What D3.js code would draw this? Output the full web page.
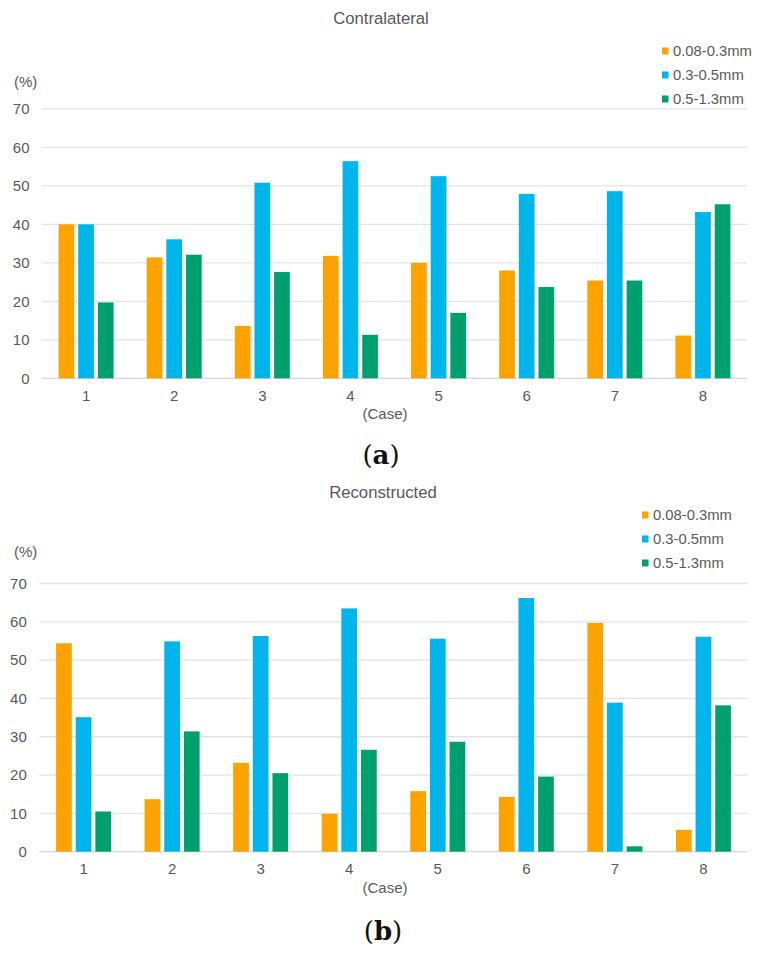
<!DOCTYPE html>
<html>
<head>
<meta charset="utf-8">
<script src="https://cdn.jsdelivr.net/npm/d3@7"></script>
<style>
body { margin: 0; background: #fff; }
svg { display: block; }
text { font-family: "Liberation Sans", Arial, sans-serif; fill: #595959; }
</style>
</head>
<body>
<svg id="fig" width="760" height="955"></svg>
<script>
var cases = ["1", "2", "3", "4", "5", "6", "7", "8"]
var sizes = ["0.08-0.3mm", "0.3-0.5mm", "0.5-1.3mm"]
var colors = ["#FCA300", "#00B5EB", "#00A06E"]
var yTicks = [0, 10, 20, 30, 40, 50, 60, 70]

// contralateral side, % per size range
var contraSmall = [40.0, 31.4, 13.6, 31.8, 30.0, 28.0, 25.4, 11.1]
var contraMid = [40.0, 36.1, 50.8, 56.4, 52.5, 47.9, 48.6, 43.2]
var contraLarge = [19.7, 32.1, 27.6, 11.3, 17.0, 23.7, 25.4, 45.2]

// reconstructed side
var reconSmall = [54.4, 13.7, 23.2, 9.9, 15.8, 14.3, 59.7, 5.7]
var reconMid = [35.1, 54.9, 56.3, 63.5, 55.6, 66.2, 38.9, 56.1]
var reconLarge = [10.5, 31.4, 20.5, 26.6, 28.7, 19.6, 1.4, 38.2]

var svg = d3.select("#fig")

function drawChart(cfg) {
	var g = svg.append("g")
	var series = [cfg.small, cfg.mid, cfg.large]

	var x = d3.scaleBand()
		.domain(cases)
		.range([cfg.left, cfg.right])
	var y = d3.scaleLinear()
		.domain([0, 70])
		.range([cfg.bottom, cfg.top])

	// gridlines
	g.selectAll("line.grid")
		.data(yTicks)
		.enter()
		.append("line")
		.attr("x1", cfg.left)
		.attr("x2", cfg.right)
		.attr("y1", function(d) { return y(d) })
		.attr("y2", function(d) { return y(d) })
		.attr("stroke", function(d) { return d == 0 ? "#d6d6d6" : "#e3e3e3" })
		.attr("stroke-width", 1.3)

	var yAxis = g.append("g")
		.attr("transform", "translate(" + (cfg.left - 12.5) + ",0)")
		.call(d3.axisLeft(y).tickValues(yTicks).tickSize(0).tickPadding(0))
	yAxis.select(".domain").remove()
	yAxis.selectAll("text")
		.attr("font-size", 15)
		.style("font-family", "Liberation Sans, Arial, sans-serif")
		.attr("fill", "#595959")

	var xAxis = g.append("g")
		.attr("transform", "translate(0," + (cfg.bottom + 11) + ")")
		.call(d3.axisBottom(x).tickSize(0).tickPadding(0))
	xAxis.select(".domain").remove()
	xAxis.selectAll("text")
		.attr("dy", "0.75em")
		.attr("font-size", 15)
		.style("font-family", "Liberation Sans, Arial, sans-serif")
		.attr("fill", "#595959")

	// bars
	var slots = g.selectAll("g.slot")
		.data(cases)
		.enter()
		.append("g")
		.attr("class", "slot")

	slots.each(function(c, ci) {
		var mid = x(c) + x.bandwidth() / 2
		var x1 = d3.scaleBand()
			.domain(d3.range(sizes.length))
			.range([mid - 27.5, mid + 27.5])
			.paddingInner(0.2)
		d3.select(this)
			.selectAll("rect")
			.data(series.map(function(s) { return s[ci] }))
			.enter()
			.append("rect")
			.attr("x", function(d, i) { return x1(i) })
			.attr("width", x1.bandwidth())
			.attr("y", function(d) { return y(d) })
			.attr("height", function(d) { return y(0) - y(d) })
			.attr("fill", function(d, i) { return colors[i] })
	})

	g.append("text")
		.attr("x", cfg.titleX)
		.attr("y", cfg.titleY)
		.attr("text-anchor", "middle")
		.attr("font-size", 16.7)
		.text(cfg.title)

	g.append("text")
		.attr("x", 14)
		.attr("y", cfg.unitY)
		.attr("font-size", 15)
		.text("(%)")

	g.append("text")
		.attr("x", cfg.caseX)
		.attr("y", cfg.bottom + 41)
		.attr("text-anchor", "middle")
		.attr("font-size", 15)
		.text("(Case)")

	var leg = g.selectAll("g.leg")
		.data(sizes)
		.enter()
		.append("g")
		.attr("transform", function(d, i) {
			return "translate(" + cfg.legX + "," + (cfg.legY + i * 24) + ")"
		})
	leg.append("rect")
		.attr("x", 0)
		.attr("y", -3.5)
		.attr("width", 6.5)
		.attr("height", 7)
		.attr("fill", function(d, i) { return colors[i] })
	leg.append("text")
		.attr("x", 11)
		.attr("dy", "0.36em")
		.attr("font-size", 14.8)
		.text(function(d) { return d })

	var lab = g.append("text")
		.attr("x", cfg.titleX)
		.attr("y", cfg.labelY)
		.attr("text-anchor", "middle")
		.attr("font-size", 26)
		.style("font-family", "DejaVu Serif, Liberation Serif, serif")
		.style("fill", "#111")
	lab.append("tspan").text("(")
	lab.append("tspan").attr("font-weight", "bold").text(cfg.label)
	lab.append("tspan").text(")")
}

drawChart({
	title: "Contralateral", label: "a",
	small: contraSmall, mid: contraMid, large: contraLarge,
	left: 42, right: 747, top: 108.8, bottom: 378.3,
	titleX: 381, titleY: 24, unitY: 87, caseX: 385,
	legX: 662, legY: 51, labelY: 464
})

drawChart({
	title: "Reconstructed", label: "b",
	small: reconSmall, mid: reconMid, large: reconLarge,
	left: 39.3, right: 747.7, top: 583.5, bottom: 851.7,
	titleX: 383, titleY: 498, unitY: 557, caseX: 385,
	legX: 642, legY: 515, labelY: 940
})
</script>
</body>
</html>
